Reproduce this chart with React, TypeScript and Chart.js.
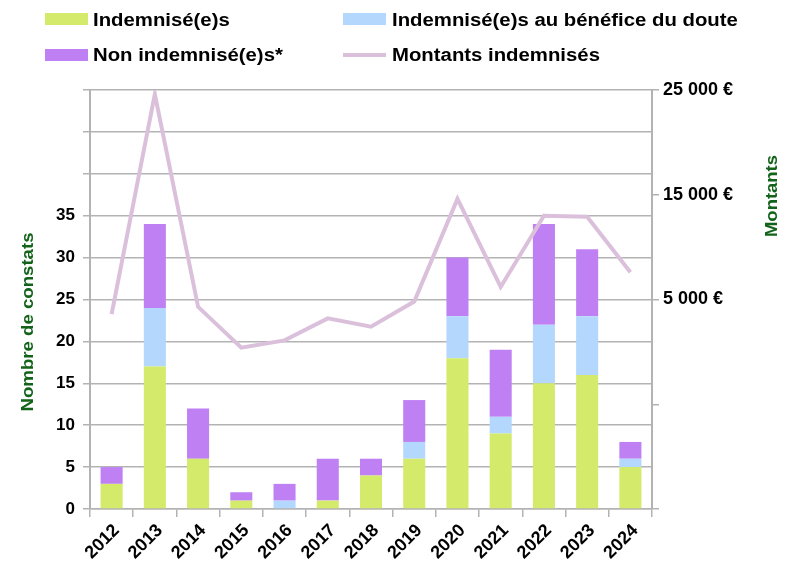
import React, { useEffect, useRef } from 'react';
import { Chart, registerables } from 'chart.js';

Chart.register(...registerables);

const years = ['2012', '2013', '2014', '2015', '2016', '2017', '2018', '2019', '2020', '2021', '2022', '2023', '2024'];
const indemnises = [3, 17, 6, 1, 0, 1, 4, 6, 18, 9, 15, 16, 5];
const beneficeDoute = [0, 7, 0, 0, 1, 0, 0, 2, 5, 2, 7, 7, 1];
const nonIndemnises = [2, 10, 6, 1, 2, 5, 2, 5, 7, 8, 12, 8, 2];
const montants = [3600, 24600, 4300, 400, 1100, 3200, 2400, 4800, 14600, 6200, 13000, 12900, 7600];

const seriesLabels = ['Indemnisé(e)s', 'Indemnisé(e)s au bénéfice du doute', 'Non indemnisé(e)s*', 'Montants indemnisés'];
const leftTitle = 'Nombre de constats';
const rightTitle = 'Montants';
const leftMax = 50;
const leftLabelMax = 35;
const rightMin = -15000;
const rightMax = 25000;

const GREEN = '#d4ea6b';
const BLUE = '#b4d7fd';
const PURPLE = '#bf80f3';
const LINE = '#dbc0db';
const GRID = '#b3b3b3';
const TITLE = '#13631a';

const tickFont = { family: '"Liberation Sans", Arial, sans-serif', size: 17, weight: 'bold' as const };
const xTickFont = { family: '"Liberation Sans", Arial, sans-serif', size: 18, weight: 'bold' as const };
const rightTickFont = { family: '"Liberation Sans", Arial, sans-serif', size: 18, weight: 'bold' as const };

function fmtEuro(v: number): string {
  return String(v).replace(/\B(?=(\d{3})+(?!\d))/g, ' ') + ' €';
}

const overlayPlugin = {
  id: 'overlay',
  afterDraw(chart: any) {
    const ctx = chart.ctx as CanvasRenderingContext2D;
    ctx.save();
    // Legend
    const colors = [GREEN, BLUE, PURPLE, LINE];
    const pos = [
      { bx: 45, by: 13, tx: 93, ty: 26 },
      { bx: 343, by: 13, tx: 392, ty: 26 },
      { bx: 45, by: 49, tx: 93, ty: 61 },
      { bx: 343, by: 49, tx: 392, ty: 61 },
    ];
    seriesLabels.forEach((lab, i) => {
      const p = pos[i];
      if (i === 3) {
        ctx.strokeStyle = colors[i];
        ctx.lineWidth = 4;
        ctx.beginPath();
        ctx.moveTo(p.bx, p.by + 6);
        ctx.lineTo(p.bx + 43, p.by + 6);
        ctx.stroke();
      } else {
        ctx.fillStyle = colors[i];
        ctx.fillRect(p.bx, p.by, 43, 12);
      }
      ctx.save();
      ctx.font = 'bold 18px "Liberation Sans", Arial, sans-serif';
      ctx.textBaseline = 'alphabetic';
      ctx.textAlign = 'left';
      ctx.fillStyle = '#000';
      ctx.translate(p.tx, p.ty);
      ctx.scale(1.13, 1);
      ctx.fillText(lab, 0, 0);
      ctx.restore();
    });

    // Axis titles
    const drawTitle = (text: string, x: number, y: number, len: number) => {
      ctx.save();
      ctx.font = 'bold 16px "Liberation Sans", Arial, sans-serif';
      ctx.fillStyle = TITLE;
      ctx.textAlign = 'center';
      ctx.textBaseline = 'alphabetic';
      ctx.translate(x, y);
      ctx.rotate(-Math.PI / 2);
      const w = ctx.measureText(text).width;
      ctx.scale(len / w, 1);
      ctx.fillText(text, 0, 0);
      ctx.restore();
    };
    drawTitle(leftTitle, 33, 322, 179);
    drawTitle(rightTitle, 777, 196, 82);
    ctx.restore();
  },
};

export default function App() {
  const ref = useRef<HTMLCanvasElement>(null);
  useEffect(() => {
    if (!ref.current) return;
    const chart = new Chart(ref.current, {
      type: 'bar',
      data: {
        labels: years,
        datasets: [
          { type: 'line', label: seriesLabels[3], data: montants, yAxisID: 'y1', borderColor: LINE, backgroundColor: LINE, borderWidth: 4, pointRadius: 0, tension: 0, order: 0, borderJoinStyle: 'miter' } as any,
          { type: 'bar', label: seriesLabels[0], data: indemnises, backgroundColor: GREEN, yAxisID: 'y', stack: 's', order: 1, categoryPercentage: 1, barPercentage: 0.51 },
          { type: 'bar', label: seriesLabels[1], data: beneficeDoute, backgroundColor: BLUE, yAxisID: 'y', stack: 's', order: 1, categoryPercentage: 1, barPercentage: 0.51 },
          { type: 'bar', label: seriesLabels[2], data: nonIndemnises, backgroundColor: PURPLE, yAxisID: 'y', stack: 's', order: 1, categoryPercentage: 1, barPercentage: 0.51 },
        ],
      },
      options: {
        responsive: false,
        animation: false,
        layout: { padding: { top: 90, left: 0, right: 0, bottom: 0 } },
        plugins: { legend: { display: false }, tooltip: { enabled: false } },
        scales: {
          x: {
            stacked: true,
            offset: true,
            grid: { offset: true, drawOnChartArea: false, drawTicks: true, tickLength: 8, color: GRID, lineWidth: 1.5 },
            border: { color: GRID, width: 1.5 },
            ticks: { autoSkip: false, minRotation: 45, maxRotation: 45, font: xTickFont, color: '#000', padding: 3, labelOffset: 5 },
            afterFit: (s: any) => { s.height = 64; },
          },
          y: {
            stacked: true,
            position: 'left',
            min: 0,
            max: leftMax,
            grid: { color: GRID, lineWidth: 1.5, tickLength: 7 },
            border: { color: GRID, width: 2 },
            ticks: { stepSize: 5, font: tickFont, color: '#000', padding: 8, callback: (v: any) => (Number(v) <= leftLabelMax ? String(v) : '') },
            afterFit: (s: any) => { s.width = 90; },
          },
          y1: {
            position: 'right',
            min: rightMin,
            max: rightMax,
            grid: { drawOnChartArea: false, color: GRID, lineWidth: 1.5, tickLength: 7 },
            border: { color: GRID, width: 2 },
            ticks: { stepSize: 10000, font: rightTickFont, color: '#000', padding: 4, callback: (v: any) => (Number(v) > 0 ? fmtEuro(Number(v)) : '') },
            afterFit: (s: any) => { s.width = 147; },
          },
        },
      } as any,
      plugins: [overlayPlugin],
    });
    return () => chart.destroy();
  }, []);
  return (
    <div style={{ position: 'fixed', left: 0, top: 0, width: 799, height: 573, background: '#fff' }}>
      <canvas ref={ref} width={799} height={573} style={{ display: 'block', width: 799, height: 573 }} />
    </div>
  );
}
